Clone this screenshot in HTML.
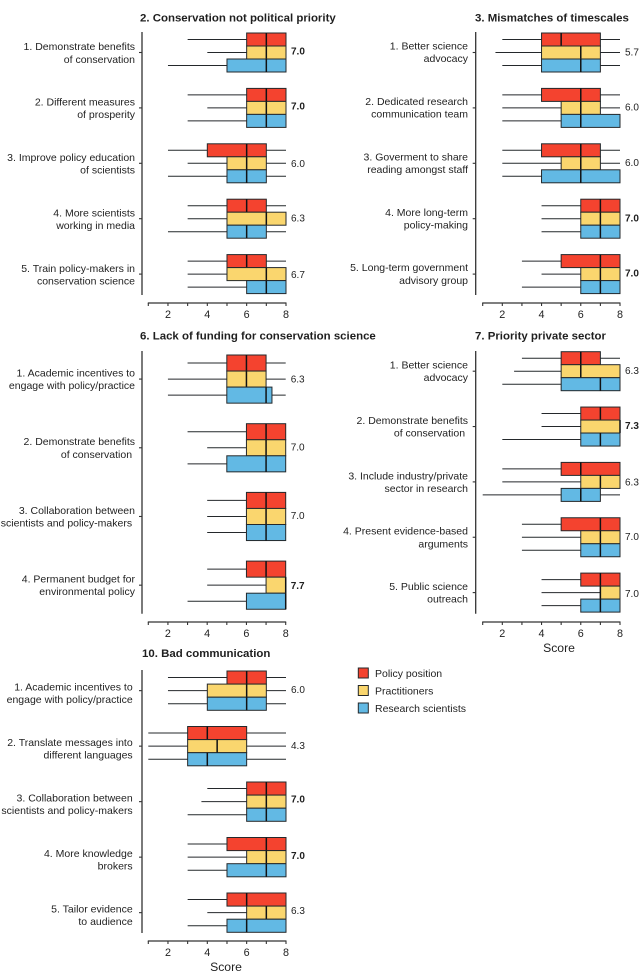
<!DOCTYPE html>
<html lang="en">
<head>
<meta charset="utf-8">
<title>Score box plots</title>
<style>
html,body{margin:0;padding:0;background:#fff;}
svg{display:block;}
text{font-family:"Liberation Sans",Arial,sans-serif;fill:#1f1f1f;}
</style>
</head>
<body>
<svg id="chart" width="642" height="974" viewBox="0 0 642 974" xmlns="http://www.w3.org/2000/svg"></svg>
<script>
// Shared axis values
const xTickValues = [1, 2, 3, 4, 5, 6, 7, 8];
const xTickLabels = ["", "2", "", "4", "", "6", "", "8"];
const seriesNames = ["Policy position", "Practitioners", "Research scientists"];

// Each row: [whisker low, box low, median, box high, whisker high]
const p2Title = "2. Conservation not political priority";
const p2Categories = [["1. Demonstrate benefits","of conservation"],["2. Different measures","of prosperity"],["3. Improve policy education","of scientists"],["4. More scientists","working in media"],["5. Train policy-makers in","conservation science"]];
const p2Policy = [[3,6,7,8,8],[3,6,7,8,8],[2,4,6,7,8],[3,5,6,7,8],[3,5,6,7,8]];
const p2Practitioners = [[4,6,7,8,8],[4,6,7,8,8],[3,5,6,7,8],[3,5,7,8,8],[3,5,7,8,8]];
const p2Scientists = [[2,5,7,8,8],[3,6,7,8,8],[2,5,6,7,8],[2,5,6,7,8],[3,6,7,8,8]];
const p2Scores = ["7.0","7.0","6.0","6.3","6.7"];
const p2Bold = [true,true,false,false,false];

const p3Title = "3. Mismatches of timescales";
const p3Categories = [["1. Better science","advocacy"],["2. Dedicated research","communication team"],["3. Goverment to share","reading amongst staff"],["4. More long-term","policy-making"],["5. Long-term government","advisory group"]];
const p3Policy = [[2,4,5,7,8],[2,4,6,7,8],[2,4,6,7,8],[4,6,7,8,8],[3,5,7,8,8]];
const p3Practitioners = [[1.65,4,6,7,8],[2,5,6,7,8],[2,5,6,7,8],[4,6,7,8,8],[4,6,7,8,8]];
const p3Scientists = [[2,4,6,7,8],[2,5,6,8,8],[2,4,6,8,8],[4,6,7,8,8],[3,6,7,8,8]];
const p3Scores = ["5.7","6.0","6.0","7.0","7.0"];
const p3Bold = [false,false,false,true,true];

const p6Title = "6. Lack of funding for conservation science";
const p6Categories = [["1. Academic incentives to","engage with policy/practice"],["2. Demonstrate benefits","of conservation\u00a0"],["3. Collaboration between","scientists and policy-makers\u00a0"],["4. Permanent budget for","environmental policy"]];
const p6Policy = [[3,5,6,7,8],[3,6,7,8,8],[4,6,7,8,8],[4,6,7,8,8]];
const p6Practitioners = [[2,5,6,7,8],[4,6,7,8,8],[4,6,7,8,8],[4,7,8,8,8]];
const p6Scientists = [[2,5,7,7.3,8],[3,5,7,8,8],[4,6,7,8,8],[3,6,8,8,8]];
const p6Scores = ["6.3","7.0","7.0","7.7"];
const p6Bold = [false,false,false,true];

const p7Title = "7. Priority private sector";
const p7Categories = [["1. Better science","advocacy"],["2. Demonstrate benefits","of conservation\u00a0"],["3. Include industry/private","sector in research"],["4. Present evidence-based","arguments"],["5. Public science","outreach"]];
const p7Policy = [[3,5,6,7,8],[4,6,7,8,8],[2,5,6,8,8],[3,5,7,8,8],[4,6,7,8,8]];
const p7Practitioners = [[2.6,5,6,8,8],[4,6,8,8,8],[2,6,7,8,8],[3,6,7,8,8],[4,7,7,8,8]];
const p7Scientists = [[2,5,7,8,8],[2,6,7,8,8],[1,5,6,7,8],[3,6,7,8,8],[4,6,7,8,8]];
const p7Scores = ["6.3","7.3","6.3","7.0","7.0"];
const p7Bold = [false,true,false,false,false];

const p10Title = "10. Bad communication";
const p10Categories = [["1. Academic incentives to","engage with policy/practice"],["2. Translate messages into","different languages"],["3. Collaboration between","scientists and policy-makers"],["4. More knowledge","brokers"],["5. Tailor evidence","to audience"]];
const p10Policy = [[2,5,6,7,8],[1,3,4,6,8],[4,6,7,8,8],[3,5,7,8,8],[3,5,6,8,8]];
const p10Practitioners = [[2,4,6,7,8],[1,3,4.5,6,8],[3.7,6,7,8,8],[3,6,7,8,8],[4,6,7,8,8]];
const p10Scientists = [[2,4,6,7,8],[1,3,4,6,8],[3,6,7,8,8],[3,5,7,8,8],[3,5,6,8,8]];
const p10Scores = ["6.0","4.3","7.0","7.0","6.3"];
const p10Bold = [false,false,true,true,false];

const COLORS = ["#f4432f", "#fad66e", "#62b9e4"];
const INK = "#24282b";
const NS = "http://www.w3.org/2000/svg";
const svg = document.getElementById("chart");

function make(parent, tag, attrs, txt) {
  const el = document.createElementNS(NS, tag);
  for (const k in attrs) el.setAttribute(k, attrs[k]);
  if (txt !== undefined) el.textContent = txt;
  parent.appendChild(el);
  return el;
}

function drawPanel(p) {
  const g = make(svg, "g", {});
  
  

  const xs = v => p.x1 + (v - 1) * (p.x8 - p.x1) / 7;
  const rowTop = i => p.top + i * p.spacing;
  const rowMid = i => rowTop(i) + 1.5 * p.band;

  const title = make(g, "text", {x: p.titleX, y: p.titleY, "font-size": 11.45, "font-weight": "bold"}, p.title);
  
  

  const yAxis = make(g, "line", {x1: p.axisX, x2: p.axisX, y1: p.axisTop, y2: p.axisBottom, stroke: "#333", "stroke-width": 1.3});
  
  

  const xAxis = make(g, "line", {x1: xs(1) - 0.5, x2: xs(8) + 0.5, y1: p.xAxisY, y2: p.xAxisY, stroke: "#333", "stroke-width": 1.2});
  
  

  xTickValues.forEach((v, i) => {
    const t = make(g, "line", {x1: xs(v), x2: xs(v), y1: p.xAxisY, y2: p.xAxisY + 3, stroke: "#333", "stroke-width": 1.1});
    
    
    if (xTickLabels[i]) {
      const l = make(g, "text", {x: xs(v), y: p.xAxisY + 15, "font-size": 10.8, "text-anchor": "middle"}, xTickLabels[i]);
      
      
    }
  });

  if (p.showScore) {
    const s = make(g, "text", {x: p.scoreX, y: p.scoreY, "font-size": 12.2, "text-anchor": "middle"}, "Score");
    
    
  }

  p.categories.forEach((cat, i) => {
    const mid = rowMid(i);
    const tick = make(g, "line", {x1: p.axisX - 3, x2: p.axisX, y1: mid, y2: mid, stroke: "#333", "stroke-width": 1.1});
    
    

    cat.forEach((line, j) => {
      const cy = mid + p.labelDy + (j === 0 ? -6.3 : 6.3);
      const lab = make(g, "text", {x: p.labelX, y: cy + 3.7, "font-size": 10.5, "text-anchor": "end"}, line);
      
      
    });

    p.series.forEach((ser, k) => {
      const [lo, q1, med, q3, hi] = ser[i];
      const y0 = rowTop(i) + k * p.band;
      const cy = y0 + p.band / 2;
      const wl = make(g, "line", {x1: xs(lo), x2: xs(q1), y1: cy, y2: cy, stroke: INK, "stroke-width": 1});
      
      
      if (hi > q3) {
        const wh = make(g, "line", {x1: xs(q3), x2: xs(hi), y1: cy, y2: cy, stroke: INK, "stroke-width": 1});
        
        
      }
      const box = make(g, "rect", {x: xs(q1), y: y0, width: xs(q3) - xs(q1), height: p.band, fill: COLORS[k], stroke: INK, "stroke-width": 1});
      
      
      const m = make(g, "line", {x1: xs(med), x2: xs(med), y1: y0, y2: y0 + p.band, stroke: "#101214", "stroke-width": 1.5});
      
      
    });

    const val = make(g, "text", {x: xs(8) + 5, y: mid + p.valueDy[i] + 3.6, "font-size": 10, "font-weight": p.bold[i] ? "bold" : "normal"}, p.scores[i]);
    
    
  });
}

const panels = [
  {id:"conservation-priority", title:p2Title, categories:p2Categories, series:[p2Policy,p2Practitioners,p2Scientists], scores:p2Scores, bold:p2Bold,
   x1:148.3, x8:286, axisX:142, axisTop:32, axisBottom:295, xAxisY:303, top:33, band:13, spacing:55.4, titleX:140, titleY:21.3, labelX:135, labelDy:0.3, valueDy:[-1.5,-2.2,0,-0.6,0.4]},
  {id:"timescales", title:p3Title, categories:p3Categories, series:[p3Policy,p3Practitioners,p3Scientists], scores:p3Scores, bold:p3Bold,
   x1:482.7, x8:620, axisX:475.7, axisTop:32, axisBottom:295, xAxisY:303, top:33, band:13, spacing:55.4, titleX:475, titleY:21.3, labelX:468, labelDy:-0.3, valueDy:[-0.8,-1,-0.7,-0.8,-1]},
  {id:"funding", title:p6Title, categories:p6Categories, series:[p6Policy,p6Practitioners,p6Scientists], scores:p6Scores, bold:p6Bold,
   x1:148.3, x8:285.7, axisX:142, axisTop:351, axisBottom:613.7, xAxisY:622, top:355, band:16.05, spacing:68.7, titleX:140, titleY:339.7, labelX:135, labelDy:0, valueDy:[0,-1,-1,0]},
  {id:"private-sector", title:p7Title, categories:p7Categories, series:[p7Policy,p7Practitioners,p7Scientists], scores:p7Scores, bold:p7Bold,
   x1:482.7, x8:620, axisX:475.7, axisTop:351, axisBottom:613.7, xAxisY:622, top:351.7, band:13, spacing:55.35, titleX:475, titleY:339.7, labelX:468, labelDy:0, valueDy:[-0.7,-1.2,0,-0.7,0.6],
   showScore:true, scoreX:559, scoreY:652},
  {id:"bad-communication", title:p10Title, categories:p10Categories, series:[p10Policy,p10Practitioners,p10Scientists], scores:p10Scores, bold:p10Bold,
   x1:148.3, x8:286, axisX:142, axisTop:670, axisBottom:933, xAxisY:941, top:671, band:13.1, spacing:55.5, titleX:142, titleY:657, labelX:132.7, labelDy:2.4, valueDy:[-1.3,-1,-3,-2,-2.4],
   showScore:true, scoreX:226, scoreY:971}
];
panels.forEach(drawPanel);

const legend = make(svg, "g", {});


seriesNames.forEach((name, k) => {
  const top = 668 + k * 17.5;
  const sw = make(legend, "rect", {x: 358.3, y: top, width: 10, height: 10, fill: COLORS[k], stroke: INK, "stroke-width": 1});
  
  
  const t = make(legend, "text", {x: 375, y: top + 9, "font-size": 10.5}, name);
  
  
});
</script>
</body>
</html>
